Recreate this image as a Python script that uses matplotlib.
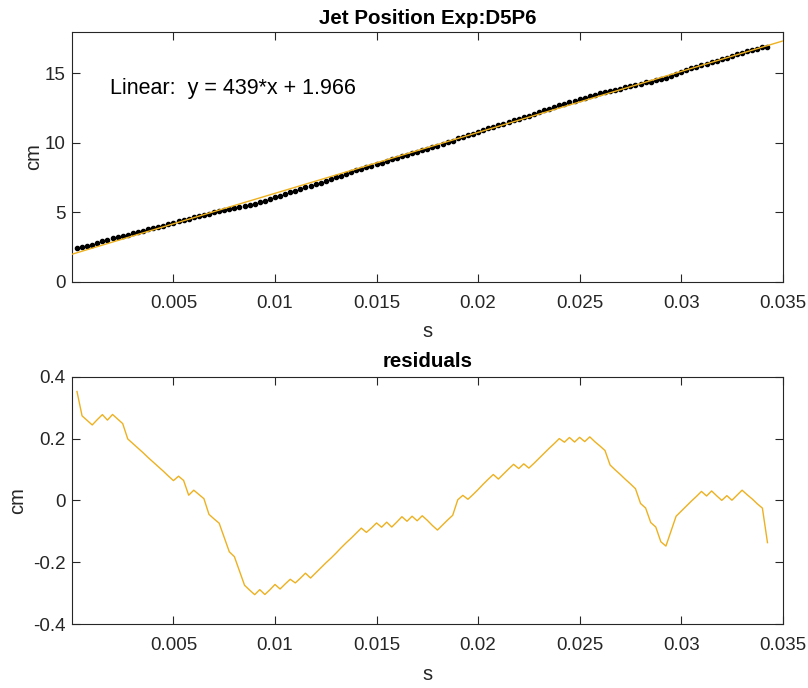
import numpy as np
import matplotlib
matplotlib.use('Agg')
import matplotlib.pyplot as plt

plt.rcParams['font.family'] = ['Liberation Sans', 'DejaVu Sans']

# Frame index (camera at 4000 fps) and tracked jet tip position
frame = np.arange(1, 138)
t_s = frame / 4000.0
position_cm = [
    2.428, 2.459, 2.554, 2.649, 2.776, 2.902, 2.994, 3.122, 3.217, 3.312,
    3.372, 3.467, 3.562, 3.657, 3.751, 3.846, 3.941, 4.036, 4.130, 4.225,
    4.349, 4.445, 4.507, 4.633, 4.729, 4.825, 4.884, 4.979, 5.075, 5.139,
    5.202, 5.296, 5.359, 5.423, 5.517, 5.612, 5.738, 5.832, 5.957, 6.084,
    6.179, 6.305, 6.430, 6.528, 6.653, 6.779, 6.873, 6.999, 7.125, 7.251,
    7.376, 7.502, 7.629, 7.755, 7.880, 8.006, 8.132, 8.228, 8.352, 8.478,
    8.574, 8.700, 8.794, 8.920, 9.047, 9.142, 9.268, 9.363, 9.489, 9.584,
    9.677, 9.772, 9.898, 10.024, 10.149, 10.309, 10.433, 10.530, 10.655, 10.781,
    10.908, 11.034, 11.159, 11.254, 11.380, 11.506, 11.631, 11.727, 11.852, 11.948,
    12.073, 12.199, 12.325, 12.451, 12.576, 12.702, 12.800, 12.925, 13.020, 13.145,
    13.241, 13.366, 13.460, 13.556, 13.651, 13.714, 13.808, 13.903, 13.997, 14.092,
    14.186, 14.248, 14.343, 14.406, 14.501, 14.563, 14.659, 14.817, 14.975, 15.101,
    15.227, 15.353, 15.478, 15.604, 15.699, 15.825, 15.919, 16.014, 16.139, 16.234,
    16.360, 16.486, 16.581, 16.677, 16.771, 16.867, 16.865,
]

# Linear fit parameters
slope = 439.0
intercept = 1.966

x_ticks = [0.005, 0.01, 0.015, 0.02, 0.025, 0.03, 0.035]
x_ticklabels = ['0.005', '0.01', '0.015', '0.02', '0.025', '0.03', '0.035']
pos_ticks = [0, 5, 10, 15]
res_ticks = [-0.4, -0.2, 0, 0.2, 0.4]
res_ticklabels = ['-0.4', '-0.2', '0', '0.2', '0.4']

position_cm = np.array(position_cm)
residuals = position_cm - (slope * t_s + intercept)

ink = '#262626'
orange = '#EDB120'
fs = 13.5

fig = plt.figure(figsize=(8.08, 6.88), dpi=100)
ax1 = fig.add_axes([0.0895, 0.5908, 0.8792, 0.3631])
ax2 = fig.add_axes([0.0895, 0.0930, 0.8792, 0.3594])

xlim = (0.00002, 0.035)

# Top: measured positions and the fitted line
ax1.plot(t_s, position_cm, '.', color='black', markersize=6, zorder=2)
fit_x = np.array(xlim)
ax1.plot(fit_x, slope * fit_x + intercept, color=orange, linewidth=1.0, zorder=3)
ax1.text(0.00186, 13.9, 'Linear:  y = 439*x + 1.966', fontsize=15.5,
         color='black', ha='left', va='center')
ax1.set_xlim(xlim)
ax1.set_ylim(0, 18)
ax1.set_yticks(pos_ticks)
ax1.set_title('Jet Position Exp:D5P6', fontsize=14.8, fontweight='bold', pad=5.5)

# Bottom: residuals of the fit
ax2.plot(t_s, residuals, color=orange, linewidth=1.0)
ax2.set_xlim(xlim)
ax2.set_ylim(-0.4, 0.4)
ax2.set_yticks(res_ticks)
ax2.set_yticklabels(res_ticklabels)
ax2.set_title('residuals', fontsize=14.8, fontweight='bold', pad=7)

for ax, ypad in ((ax1, 1), (ax2, 4)):
    ax.set_xticks(x_ticks)
    ax.set_xticklabels(x_ticklabels)
    ax.set_xlabel('s', fontsize=14.5, color=ink, labelpad=7.5)
    ax.set_ylabel('cm', fontsize=14.5, color=ink, labelpad=ypad)
    ax.tick_params(direction='in', length=6, width=0.8, colors=ink,
                   labelsize=fs, top=True, right=True)
    ax.tick_params(axis='x', pad=9.5)
    ax.tick_params(axis='y', pad=5)
    for sp in ax.spines.values():
        sp.set_color(ink)
        sp.set_linewidth(0.8)

fig.savefig('out.png', dpi=100)
